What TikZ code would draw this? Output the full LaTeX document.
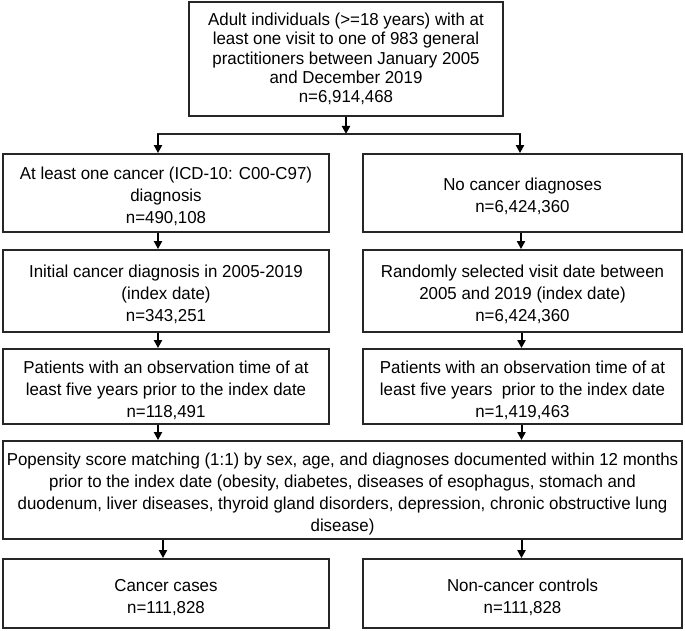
\documentclass[tikz,border=0pt]{standalone}
\usepackage{fontspec}
\setmainfont[FakeStretch=0.975]{Liberation Sans}
\usetikzlibrary{arrows.meta}
\newcommand\tstrut{\rule{0pt}{19.6pt}}
\tikzset{
  box/.style={draw=black!85, line width=1.8pt, inner sep=0pt, align=center,
    font=\fontsize{17.3}{22}\selectfont},
  arr/.style={draw=black, line width=2pt, -{Triangle[length=8pt,width=8pt]}},
  link/.style={draw=black!85, line width=1.8pt}
}
\begin{document}
\begin{tikzpicture}[x=1pt,y=-1pt]
\useasboundingbox (0,0) rectangle (685,631);
\node[box, font=\fontsize{17.3}{19.4}\selectfont, minimum width=314, minimum height=114] (top) at (346,59)
  {Adult individuals (>=18 years) with at\\least one visit to one of 983 general\\practitioners between January 2005\\and December 2019\\n=6,914,468};
\node[box, minimum width=326, minimum height=78] (l1) at (166,193)
  {\tstrut At least one cancer (ICD-10: C00-C97)\\diagnosis\\n=490,108};
\node[box, minimum width=319, minimum height=78] (r1) at (522.5,193)
  {\tstrut No cancer diagnoses\\n=6,424,360};
\node[box, minimum width=326, minimum height=82] (l2) at (166,291)
  {\tstrut Initial cancer diagnosis in 2005-2019\\(index date)\\n=343,251};
\node[box, minimum width=319, minimum height=82] (r2) at (522.5,291)
  {\tstrut Randomly selected visit date between\\2005 and 2019 (index date)\\n=6,424,360};
\node[box, minimum width=326, minimum height=75] (l3) at (166,386.5)
  {\tstrut Patients with an observation time of at\\least five years prior to the index date\\n=118,491};
\node[box, minimum width=319, minimum height=75] (r3) at (522.5,386.5)
  {\tstrut Patients with an observation time of at\\least five years\ \ prior to the index date\\n=1,419,463};
\node[box, minimum width=679, minimum height=98] (psm) at (342.5,490)
  {\tstrut Popensity score matching (1:1) by sex, age, and diagnoses documented within 12 months\\prior to the index date (obesity, diabetes, diseases of esophagus, stomach and\\duodenum, liver diseases, thyroid gland disorders, depression, chronic obstructive lung\\disease)};
\node[box, minimum width=326, minimum height=69] (l4) at (166,593.5)
  {\tstrut Cancer cases\\n=111,828};
\node[box, minimum width=319, minimum height=69] (r4) at (522.5,593.5)
  {\tstrut Non-cancer controls\\n=111,828};
\coordinate (split) at (346,134);
\draw[arr] (top.south) -- (split);
\draw[link] (split -| 157,0) -- (split -| 521,0);
\draw[arr] (split -| 158,0) -- ([xshift=-8]l1.north);
\draw[arr] (split -| 520,0) -- ([xshift=-2.5]r1.north);
\draw[arr] ([xshift=-8]l1.south) -- ([xshift=-8]l2.north);
\draw[arr] ([xshift=-1.5]r1.south) -- ([xshift=-1.5]r2.north);
\draw[arr] ([xshift=-8]l2.south) -- ([xshift=-8]l3.north);
\draw[arr] ([xshift=-1]r2.south) -- ([xshift=-1]r3.north);
\draw[arr] ([xshift=-8]l3.south) -- (psm.north -| 158,0);
\draw[arr] ([xshift=-1]r3.south) -- (psm.north -| 521.5,0);
\draw[arr] (psm.south -| 163,0) -- ([xshift=-3]l4.north);
\draw[arr] (psm.south -| 521.5,0) -- ([xshift=-1]r4.north);
\end{tikzpicture}
\end{document}
